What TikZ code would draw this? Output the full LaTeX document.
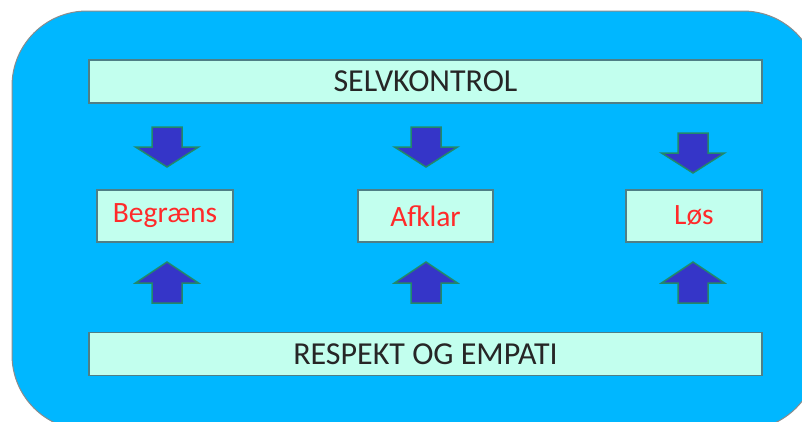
\documentclass[tikz,border=0pt]{standalone}
\usepackage{fontspec}
\setmainfont{Carlito}
\usetikzlibrary{positioning}
\definecolor{cback}{HTML}{00B7FF}
\definecolor{cbox}{HTML}{C2FFEE}
\definecolor{cedge}{HTML}{4F7F86}
\definecolor{carrow}{HTML}{3535C8}
\definecolor{carredge}{HTML}{22886A}
\definecolor{cred}{HTML}{FF2A2A}
\tikzset{
  every picture/.style={x=1pt, y=-1pt},
  panel/.style={draw=black!45, fill=cback, line width=1pt, rounded corners=75pt},
  bar/.style={draw=cedge, fill=cbox, line width=1.2pt, minimum width=673pt, minimum height=43pt,
    inner sep=0pt, font=\fontsize{32}{38}\selectfont, text=black!85},
  act/.style={draw=cedge, fill=cbox, line width=1.2pt, minimum width=136pt, minimum height=52pt,
    inner sep=0pt, font=\fontsize{29.5}{35}\selectfont, text=cred},
  blk/.style={draw=carredge, fill=carrow, line width=1.5pt, line join=miter},
  downarr/.pic={\draw[blk] (-15,0) -- (15,0) -- (15,20) -- (31.5,20) -- (0,40) -- (-31.5,20) -- (-15,20) -- cycle;},
  uparr/.pic={\draw[blk] (-15,0) -- (15,0) -- (15,-20) -- (31.5,-20) -- (0,-41) -- (-31.5,-20) -- (-15,-20) -- cycle;},
}

\begin{document}
\begin{tikzpicture}
  \useasboundingbox (0,0) rectangle (802,421);
  \clip (0,0) rectangle (802,421);
  \draw[panel] (12,11) rectangle (818,430);
  % bars
  \node[bar] (selv) at (425.5,81.5) {SELVKONTROL};
  \node[bar] (resp) at (425.5,354) {RESPEKT OG EMPATI};
  % actions
  \node[act] (beg) at (165,216) {Begræns};
  \node[act, minimum width=135pt] (afk) at (425.5,216) {Afklar};
  \node[act] (los) at (694,216) {Løs};
  % arrows down
  \pic at (167,127) {downarr};
  \pic at (426,127) {downarr};
  \pic at (693,133) {downarr};
  % arrows up
  \pic at (167,303) {uparr};
  \pic at (426,303) {uparr};
  \pic at (693,303) {uparr};
\end{tikzpicture}
\end{document}
